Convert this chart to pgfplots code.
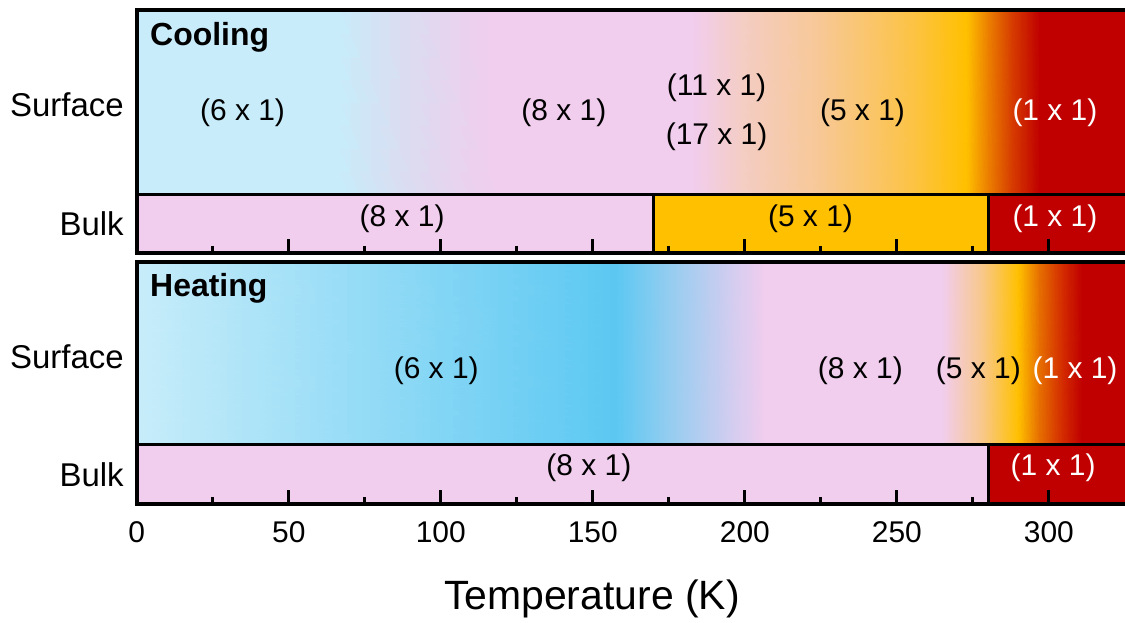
\documentclass[border=0pt]{standalone}
\usepackage{fontspec}
\setmainfont{Liberation Sans}
\usepackage{pgfplots}
\pgfplotsset{compat=1.18}
\usepackage{pgfplotstable}

\definecolor{pinkc}{RGB}{241,205,238}
\definecolor{yelc}{RGB}{255,192,0}
\definecolor{redc}{RGB}{192,0,0}
\newcommand{\lbl}{\fontsize{15}{18}\selectfont}

% surface gradients: rectangles between colour stops (K), corner colours
\pgfplotstableread{
x y c
0 58 rgb=0.784,0.925,0.980
67 58 rgb=0.784,0.925,0.980
67 243 rgb=0.784,0.925,0.980
0 243 rgb=0.784,0.925,0.980
67 58 rgb=0.784,0.925,0.980
93 58 rgb=0.871,0.855,0.941
93 243 rgb=0.871,0.855,0.941
67 243 rgb=0.784,0.925,0.980
93 58 rgb=0.871,0.855,0.941
119 58 rgb=0.945,0.804,0.933
119 243 rgb=0.945,0.804,0.933
93 243 rgb=0.871,0.855,0.941
119 58 rgb=0.945,0.804,0.933
183 58 rgb=0.945,0.804,0.933
183 243 rgb=0.945,0.804,0.933
119 243 rgb=0.945,0.804,0.933
183 58 rgb=0.945,0.804,0.933
200 58 rgb=0.957,0.804,0.765
200 243 rgb=0.957,0.804,0.765
183 243 rgb=0.945,0.804,0.933
200 58 rgb=0.957,0.804,0.765
225 58 rgb=0.969,0.784,0.588
225 243 rgb=0.969,0.784,0.588
200 243 rgb=0.957,0.804,0.765
225 58 rgb=0.969,0.784,0.588
255 58 rgb=0.988,0.765,0.275
255 243 rgb=0.988,0.765,0.275
225 243 rgb=0.969,0.784,0.588
255 58 rgb=0.988,0.765,0.275
273 58 rgb=1,0.753,0
273 243 rgb=1,0.753,0
255 243 rgb=0.988,0.765,0.275
273 58 rgb=1,0.753,0
280 58 rgb=0.925,0.502,0
280 243 rgb=0.925,0.502,0
273 243 rgb=1,0.753,0
280 58 rgb=0.925,0.502,0
288 58 rgb=0.839,0.235,0
288 243 rgb=0.839,0.235,0
280 243 rgb=0.925,0.502,0
288 58 rgb=0.839,0.235,0
297 58 rgb=0.753,0,0
297 243 rgb=0.753,0,0
288 243 rgb=0.839,0.235,0
297 58 rgb=0.753,0,0
328 58 rgb=0.753,0,0
328 243 rgb=0.753,0,0
297 243 rgb=0.753,0,0
}\coolsurf

\pgfplotstableread{
x y c
0 60 rgb=0.784,0.929,0.980
158 60 rgb=0.361,0.784,0.949
158 243 rgb=0.361,0.784,0.949
0 243 rgb=0.784,0.929,0.980
158 60 rgb=0.361,0.784,0.949
176 60 rgb=0.588,0.804,0.941
176 243 rgb=0.588,0.804,0.941
158 243 rgb=0.361,0.784,0.949
176 60 rgb=0.588,0.804,0.941
194 60 rgb=0.804,0.804,0.941
194 243 rgb=0.804,0.804,0.941
176 243 rgb=0.588,0.804,0.941
194 60 rgb=0.804,0.804,0.941
207 60 rgb=0.945,0.804,0.933
207 243 rgb=0.945,0.804,0.933
194 243 rgb=0.804,0.804,0.941
207 60 rgb=0.945,0.804,0.933
265 60 rgb=0.945,0.804,0.933
265 243 rgb=0.945,0.804,0.933
207 243 rgb=0.945,0.804,0.933
265 60 rgb=0.945,0.804,0.933
278 60 rgb=0.973,0.784,0.549
278 243 rgb=0.973,0.784,0.549
265 243 rgb=0.945,0.804,0.933
278 60 rgb=0.973,0.784,0.549
290 60 rgb=1,0.753,0
290 243 rgb=1,0.753,0
278 243 rgb=0.973,0.784,0.549
290 60 rgb=1,0.753,0
297 60 rgb=0.902,0.431,0
297 243 rgb=0.902,0.431,0
290 243 rgb=1,0.753,0
297 60 rgb=0.902,0.431,0
305 60 rgb=0.824,0.157,0
305 243 rgb=0.824,0.157,0
297 243 rgb=0.902,0.431,0
305 60 rgb=0.824,0.157,0
311 60 rgb=0.753,0,0
311 243 rgb=0.753,0,0
305 243 rgb=0.824,0.157,0
311 60 rgb=0.753,0,0
328 60 rgb=0.753,0,0
328 243 rgb=0.753,0,0
311 243 rgb=0.753,0,0
}\heatsurf

\pgfplotsset{
  bandaxis/.style={
    scale only axis, width=499.5pt, height=121.5pt,
    xmin=0, xmax=328, ymin=0, ymax=243,
    axis on top,
    axis line style={line width=2pt},
    xtick={0,50,...,300}, minor xtick={25,75,...,275},
    xtick pos=bottom, tick align=inside,
    major tick length=7pt, minor tick length=3.5pt,
    tick style={black, line width=1.5pt},
    ytick={29,148}, yticklabels={Bulk,Surface},
    ytick style={draw=none},
    yticklabel style={font=\fontsize{16.5}{19}\selectfont, xshift=-3pt},
    xticklabel style={font=\lbl, yshift=-5pt},
    /pgf/number format/assume math mode=true,
  },
  gradpatch/.style={patch, patch type=rectangle, shader=interp,
    mesh/color input=explicit, point meta=explicit symbolic},
}

\begin{document}
\begin{tikzpicture}
\useasboundingbox (-68.5pt,-185.5pt) rectangle (495pt,126.5pt);

\begin{axis}[bandaxis, at={(0pt,0pt)}, anchor=south west, xticklabels=\empty]
\addplot[gradpatch] table[x=x, y=y, meta=c] {\coolsurf};
\addplot[fill=pinkc, draw=black, line width=1.5pt] coordinates {(0,58) (170,58)} \closedcycle;
\addplot[fill=yelc, draw=black, line width=1.5pt] coordinates {(170,58) (280,58)} \closedcycle;
\addplot[fill=redc, draw=black, line width=1.5pt] coordinates {(280,58) (330,58)} \closedcycle;
\node[anchor=west, inner sep=0pt, font=\bfseries\fontsize{16}{19}\selectfont] at (axis cs:4.3,216) {Cooling};
\node[font=\lbl] at (axis cs:34.8,140) {(6 x 1)};
\node[font=\lbl] at (axis cs:140.5,140) {(8 x 1)};
\node[font=\lbl] at (axis cs:190.7,165) {(11 x 1)};
\node[font=\lbl] at (axis cs:190.7,116) {(17 x 1)};
\node[font=\lbl] at (axis cs:238.7,140) {(5 x 1)};
\node[font=\lbl, text=white] at (axis cs:302,140) {(1 x 1)};
\node[font=\lbl] at (axis cs:87.3,34) {(8 x 1)};
\node[font=\lbl] at (axis cs:221.6,34) {(5 x 1)};
\node[font=\lbl, text=white] at (axis cs:302,34) {(1 x 1)};
\end{axis}

\begin{axis}[bandaxis, at={(0pt,-4.5pt)}, anchor=north west,
  xlabel={Temperature (K)},
  xlabel style={font=\fontsize{20.5}{24}\selectfont, at={(axis description cs:0.4564,0)}, anchor=center, yshift=-47.5pt}]
\addplot[gradpatch] table[x=x, y=y, meta=c] {\heatsurf};
\addplot[fill=pinkc, draw=black, line width=1.5pt] coordinates {(0,60) (280,60)} \closedcycle;
\addplot[fill=redc, draw=black, line width=1.5pt] coordinates {(280,60) (330,60)} \closedcycle;
\node[anchor=west, inner sep=0pt, font=\bfseries\fontsize{16}{19}\selectfont] at (axis cs:4.3,216) {Heating};
\node[font=\lbl] at (axis cs:98.5,134) {(6 x 1)};
\node[font=\lbl] at (axis cs:238,134) {(8 x 1)};
\node[font=\lbl] at (axis cs:276.8,134) {(5 x 1)};
\node[font=\lbl, text=white] at (axis cs:308.6,134) {(1 x 1)};
\node[font=\lbl] at (axis cs:148.7,36) {(8 x 1)};
\node[font=\lbl, text=white] at (axis cs:301.4,36) {(1 x 1)};
\end{axis}
\end{tikzpicture}
\end{document}
